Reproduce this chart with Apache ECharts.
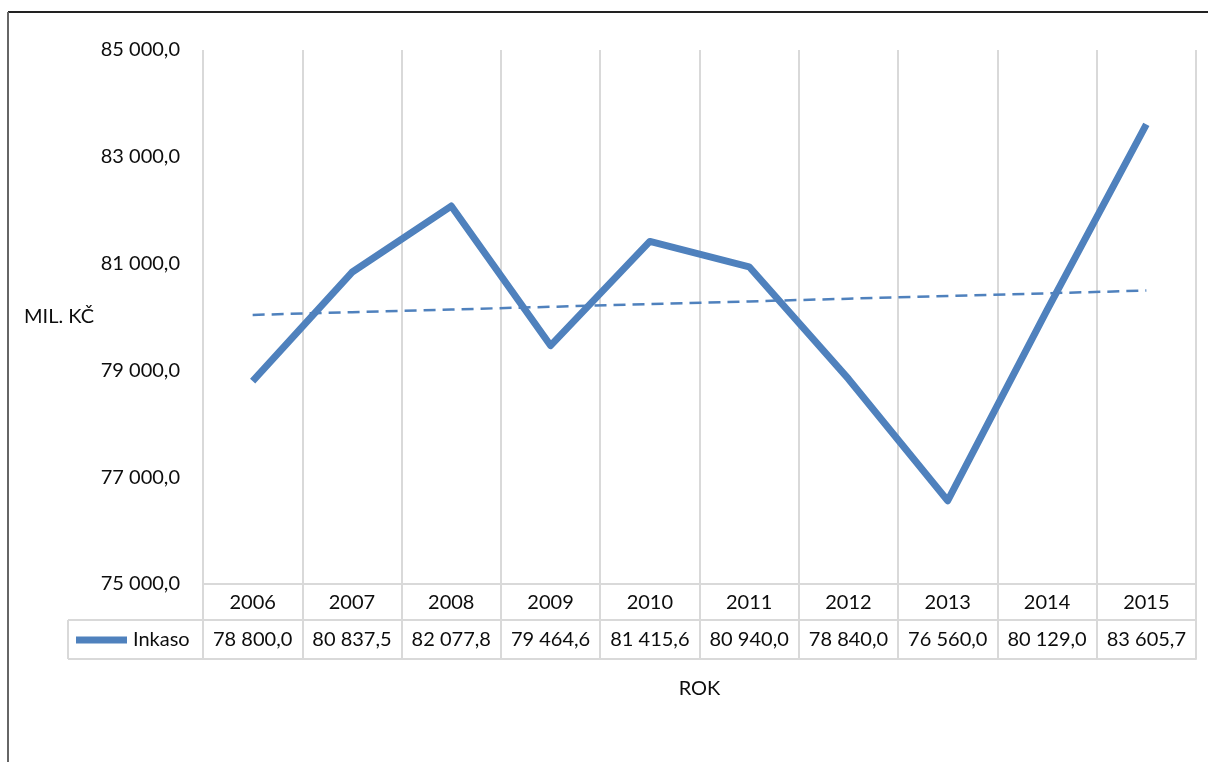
<!DOCTYPE html>
<html>
<head>
<meta charset="utf-8">
<script src="https://cdn.jsdelivr.net/npm/echarts@6/dist/echarts.min.js"></script>
<style>
  html, body { margin: 0; padding: 0; background: #fff; }
  #chart { width: 1208px; height: 762px; }
</style>
</head>
<body>
<div id="chart"></div>
<script>
// Inkaso (mil. Kč) by year
const years = ['2006', '2007', '2008', '2009', '2010', '2011', '2012', '2013', '2014', '2015'];
const inkaso = [78800.0, 80837.5, 82077.8, 79464.6, 81415.6, 80940.0, 78840.0, 76560.0, 80129.0, 83605.7];
const yTicks = { min: 75000, max: 85000, step: 2000 };

// Linear trendline (least squares) over the series
function linearTrend(vals) {
  const n = vals.length;
  const mx = (n - 1) / 2;
  const my = vals.reduce((a, b) => a + b, 0) / n;
  let sxy = 0, sxx = 0;
  vals.forEach((v, i) => { sxy += (i - mx) * (v - my); sxx += (i - mx) * (i - mx); });
  const k = sxy / sxx;
  return vals.map((_, i) => my + k * (i - mx));
}

function fmt(v) {
  const p = v.toFixed(1).split('.');
  return p[0].replace(/\B(?=(\d{3})+(?!\d))/g, ' ') + ',' + p[1];
}

const FONT = 'Lato, "Open Sans", sans-serif';
const FS = 20;
const TEXT = '#0d0d0d';
const GRID_LINE = '#d9d9d9';
const BLUE = '#4f81bd';
const G = { left: 203, right: 12, top: 50, bottom: 178, outerBoundsMode: 'none', containLabel: false };
const ROW1 = 36, ROW2 = 75;   // table row boundaries below the plot

const chart = echarts.init(document.getElementById('chart'));
const plotBottom = 762 - G.bottom;

chart.setOption({
  animation: false,
  textStyle: { fontFamily: FONT },
  grid: G,
  legend: {
    data: ['Inkaso'],
    left: 76,
    top: plotBottom + ROW1 + 10,
    padding: 0,
    icon: 'rect',
    itemWidth: 51,
    itemHeight: 7,
    itemGap: 6,
    textStyle: { fontFamily: FONT, fontSize: FS, color: TEXT, padding: [0, 0, 0, 1] }
  },
  xAxis: [
    {
      type: 'category', data: years, gridIndex: 0, position: 'bottom',
      boundaryGap: true,
      axisLine: { show: true, lineStyle: { color: GRID_LINE, width: 2 } },
      axisTick: { show: true, inside: false, length: ROW2, interval: 0, lineStyle: { color: GRID_LINE, width: 2 } },
      axisLabel: { fontSize: FS, color: TEXT, margin: 9, interval: 0, fontFamily: FONT },
      splitLine: { show: true, interval: 0, lineStyle: { color: GRID_LINE, width: 2 } }
    },
    {
      type: 'category', data: years, gridIndex: 0, position: 'bottom', offset: ROW1,
      axisLine: { show: true, lineStyle: { color: GRID_LINE, width: 2 } },
      axisTick: { show: false },
      axisLabel: { fontSize: FS, color: TEXT, margin: 10, interval: 0, hideOverlap: false, fontFamily: FONT,
        formatter: (v, i) => fmt(inkaso[i]) },
      splitLine: { show: false }
    },
    {
      type: 'category', data: years, gridIndex: 0, position: 'bottom', offset: ROW2,
      axisLine: { show: true, lineStyle: { color: GRID_LINE, width: 2 } },
      axisTick: { show: false },
      axisLabel: { show: false },
      splitLine: { show: false },
      name: 'ROK', nameLocation: 'middle', nameGap: 20,
      nameTextStyle: { fontSize: FS, color: TEXT, fontFamily: FONT }
    }
  ],
  yAxis: {
    type: 'value',
    min: yTicks.min, max: yTicks.max, interval: yTicks.step,
    axisLine: { show: false },
    axisTick: { show: false },
    splitLine: { show: false },
    axisLabel: { fontSize: FS, color: TEXT, margin: 23, fontFamily: FONT, formatter: v => fmt(v) },
    name: 'MIL. KČ', nameLocation: 'middle', nameRotate: 0, nameGap: 109,
    nameTextStyle: { fontSize: FS, color: TEXT, fontFamily: FONT }
  },
  series: [
    {
      name: 'Inkaso', type: 'line', data: inkaso,
      symbol: 'none', smooth: false,
      lineStyle: { color: BLUE, width: 7, cap: 'butt', join: 'round' },
      itemStyle: { color: BLUE },
      z: 3
    },
    {
      name: 'Trend', type: 'line', data: linearTrend(inkaso),
      symbol: 'none', silent: true,
      lineStyle: { color: BLUE, width: 2.5, type: [12, 7] },
      z: 2
    }
  ],
  graphic: [
    // outer frame
    { type: 'line', shape: { x1: 8, y1: 12, x2: 1208, y2: 12 }, style: { stroke: '#222', lineWidth: 2 } },
    { type: 'line', shape: { x1: 8, y1: 12, x2: 8, y2: 762 }, style: { stroke: '#666', lineWidth: 2 } },
    // legend cell of the data table
    { type: 'line', shape: { x1: 68, y1: plotBottom + ROW1, x2: G.left, y2: plotBottom + ROW1 }, style: { stroke: GRID_LINE, lineWidth: 2 } },
    { type: 'line', shape: { x1: 68, y1: plotBottom + ROW2, x2: G.left, y2: plotBottom + ROW2 }, style: { stroke: GRID_LINE, lineWidth: 2 } },
    { type: 'line', shape: { x1: 68, y1: plotBottom + ROW1, x2: 68, y2: plotBottom + ROW2 }, style: { stroke: GRID_LINE, lineWidth: 2 } }
  ]
});
</script>
</body>
</html>
